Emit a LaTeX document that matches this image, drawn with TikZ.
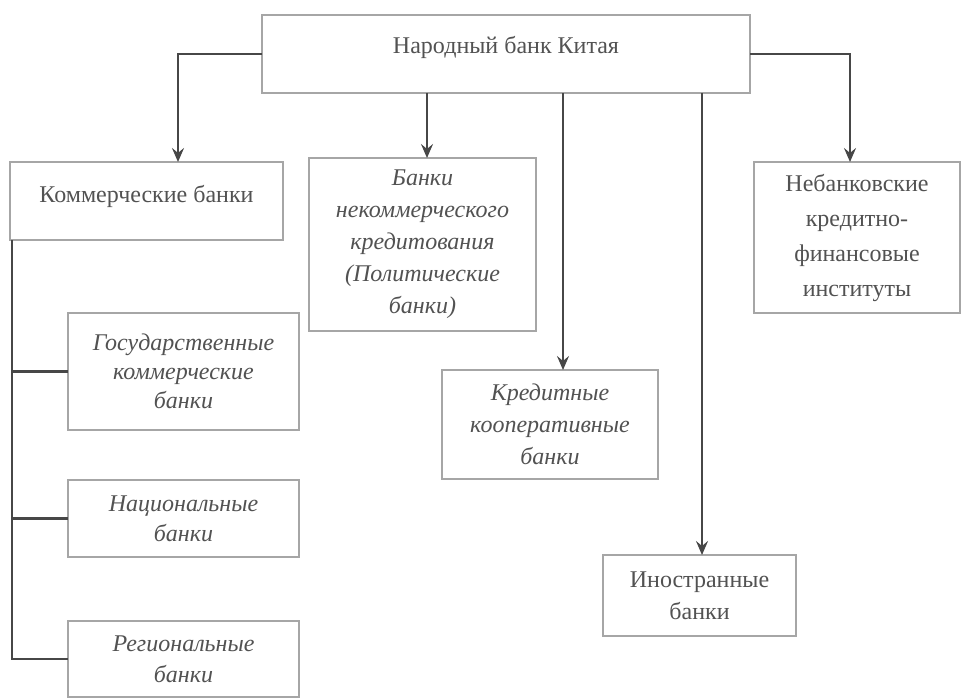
\documentclass[tikz,border=0pt]{standalone}
\usepackage{fontspec}
\setmainfont{Liberation Serif}
\usetikzlibrary{arrows.meta,calc,positioning}
\begin{document}
\begin{tikzpicture}[x=1pt,y=-1pt,
  box/.style={draw=gray!70,line width=2pt,fill=white,anchor=north west,
    align=center,inner sep=2pt,outer sep=0pt,text=black!68,
    font=\fontsize{24}{33}\selectfont},
  conn/.style={draw=black!72,line width=2.2pt},
  arr/.style={conn,-{Stealth[length=14pt,width=12pt,inset=5pt]}}]
\useasboundingbox (0,0) rectangle (962,698);
% boxes
\node[box,minimum width=488,minimum height=78] (top) at (262,15) {\raisebox{18pt}{Народный банк Китая}};
\node[box,minimum width=273,minimum height=78] (komm) at (10,162) {\raisebox{15pt}{Коммерческие банки}};
\node[box,minimum width=227,minimum height=173,font=\itshape\fontsize{24}{32}\selectfont] (nekomm) at (309,158) {Банки\\некоммерческого\\кредитования\\(Политические\\банки)};
\node[box,minimum width=206,minimum height=151,font=\fontsize{24}{35}\selectfont] (neb) at (754,162) {Небанковские\\кредитно-\\финансовые\\институты};
\node[box,minimum width=216,minimum height=109,font=\itshape\fontsize{24}{32}\selectfont] (kred) at (442,370) {Кредитные\\кооперативные\\банки};
\node[box,minimum width=193,minimum height=81,font=\fontsize{24}{32}\selectfont] (inostr) at (603,555) {Иностранные\\банки};
\node[box,minimum width=231,minimum height=117,font=\itshape\fontsize{24}{29}\selectfont] (gos) at (68,313) {Государственные\\коммерческие\\банки};
\node[box,minimum width=231,minimum height=77,font=\itshape\fontsize{24}{30}\selectfont] (nac) at (68,480) {Национальные\\банки};
\node[box,minimum width=231,minimum height=76,font=\itshape\fontsize{24}{31}\selectfont] (reg) at (68,621) {Региональные\\банки};
% arrows from the top box
\draw[arr] (top.west) -| ($(komm.north west)+(168,0)$);
\draw[arr] (top.east) -| ($(neb.north west)+(96,0)$);
\coordinate (a1) at ($(top.south west)+(165,0)$);
\coordinate (a2) at ($(top.south west)+(301,0)$);
\coordinate (a3) at ($(top.south west)+(440,0)$);
\draw[arr] (a1) -- (a1 |- nekomm.north);
\draw[arr] (a2) -- (a2 |- kred.north);
\draw[arr] (a3) -- (a3 |- inostr.north);
% tree of commercial banks
\coordinate (t0) at ($(komm.south west)+(2,0)$);
\draw[conn] (t0) |- (reg.west);
\draw[conn] (t0 |- gos.west) -- (gos.west);
\draw[conn] (t0 |- nac.west) -- (nac.west);
\end{tikzpicture}
\end{document}
